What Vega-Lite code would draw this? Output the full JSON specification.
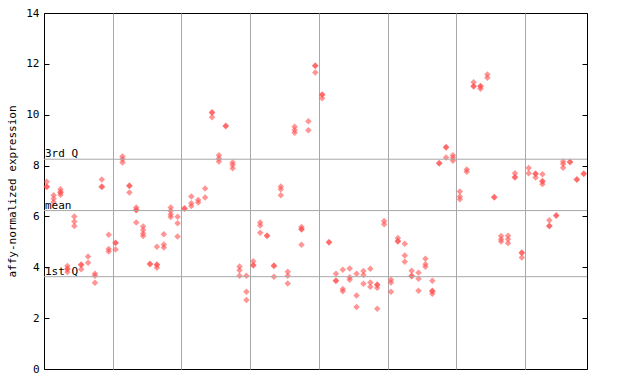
{
  "$schema": "https://vega.github.io/schema/vega-lite/v6.json",
  "width": 543,
  "height": 356,
  "autosize": {"type": "none"},
  "padding": {"left": 44, "top": 13, "right": 53, "bottom": 15},
  "background": "white",
  "config": {
    "view": {"stroke": "black", "strokeWidth": 1},
    "font": "DejaVu Sans Mono",
    "axis": {"labelFont": "DejaVu Sans Mono", "titleFont": "DejaVu Sans Mono", "labelFontSize": 11, "titleFontSize": 11, "labelColor": "black", "titleColor": "black", "titleFontWeight": "normal", "tickColor": "black", "gridColor": "#a8a8a8", "gridOpacity": 1}
  },
  "datasets": {
    "pts": [
      {"s":0,"v":7.36},{"s":0,"v":7.16},{"s":0,"v":7.18},
      {"s":1,"v":6.83},{"s":1,"v":6.70},{"s":1,"v":6.57},
      {"s":2,"v":7.07},{"s":2,"v":6.94},{"s":2,"v":6.96},{"s":2,"v":6.85},
      {"s":3,"v":4.05},{"s":3,"v":3.92},{"s":3,"v":3.94},{"s":3,"v":3.81},
      {"s":4,"v":6.00},{"s":4,"v":5.80},{"s":4,"v":5.62},
      {"s":5,"v":4.09},{"s":5,"v":4.11},{"s":5,"v":3.92},
      {"s":6,"v":4.42},{"s":6,"v":4.18},
      {"s":7,"v":3.75},{"s":7,"v":3.67},{"s":7,"v":3.39},
      {"s":8,"v":7.45},{"s":8,"v":7.16},{"s":8,"v":7.18},
      {"s":9,"v":5.28},{"s":9,"v":4.72},{"s":9,"v":4.62},
      {"s":10,"v":4.95},{"s":10,"v":4.97},{"s":10,"v":4.70},
      {"s":11,"v":8.36},{"s":11,"v":8.25},{"s":11,"v":8.12},
      {"s":12,"v":7.20},{"s":12,"v":7.22},{"s":12,"v":6.94},
      {"s":13,"v":6.35},{"s":13,"v":6.24},{"s":13,"v":6.26},{"s":13,"v":5.76},
      {"s":14,"v":5.60},{"s":14,"v":5.47},{"s":14,"v":5.33},{"s":14,"v":5.23},
      {"s":15,"v":4.12},{"s":15,"v":4.14},
      {"s":16,"v":4.81},{"s":16,"v":4.09},{"s":16,"v":4.11},{"s":16,"v":3.98},
      {"s":17,"v":5.30},{"s":17,"v":4.90},{"s":17,"v":4.78},
      {"s":18,"v":6.35},{"s":18,"v":6.21},{"s":18,"v":6.08},{"s":18,"v":5.98},
      {"s":19,"v":5.99},{"s":19,"v":5.73},{"s":19,"v":5.21},
      {"s":20,"v":6.30},{"s":20,"v":6.32},
      {"s":21,"v":6.78},{"s":21,"v":6.52},{"s":21,"v":6.41},
      {"s":22,"v":6.65},{"s":22,"v":6.55},
      {"s":23,"v":7.10},{"s":23,"v":6.74},
      {"s":24,"v":10.08},{"s":24,"v":10.10},{"s":24,"v":9.90},
      {"s":25,"v":8.41},{"s":25,"v":8.28},{"s":25,"v":8.16},
      {"s":26,"v":9.55},{"s":26,"v":9.57},
      {"s":27,"v":8.12},{"s":27,"v":8.02},{"s":27,"v":7.89},
      {"s":28,"v":4.03},{"s":28,"v":3.88},{"s":28,"v":3.67},
      {"s":29,"v":3.67},{"s":29,"v":3.04},{"s":29,"v":2.71},
      {"s":30,"v":4.24},{"s":30,"v":4.07},{"s":30,"v":4.09},
      {"s":31,"v":5.76},{"s":31,"v":5.64},{"s":31,"v":5.36},
      {"s":32,"v":5.23},{"s":32,"v":5.25},
      {"s":33,"v":4.05},{"s":33,"v":4.07},{"s":33,"v":3.63},
      {"s":34,"v":7.18},{"s":34,"v":7.07},{"s":34,"v":6.83},
      {"s":35,"v":3.82},{"s":35,"v":3.67},{"s":35,"v":3.36},
      {"s":36,"v":9.53},{"s":36,"v":9.40},{"s":36,"v":9.29},
      {"s":37,"v":5.58},{"s":37,"v":5.49},{"s":37,"v":5.51},{"s":37,"v":4.89},
      {"s":38,"v":9.74},{"s":38,"v":9.39},
      {"s":39,"v":11.92},{"s":39,"v":11.94},{"s":39,"v":11.66},
      {"s":40,"v":10.78},{"s":40,"v":10.80},{"s":40,"v":10.65},
      {"s":41,"v":4.97},{"s":41,"v":4.99},
      {"s":42,"v":3.75},{"s":42,"v":3.46},{"s":42,"v":3.48},
      {"s":43,"v":3.90},{"s":43,"v":3.15},{"s":43,"v":3.06},
      {"s":44,"v":3.95},{"s":44,"v":3.61},{"s":44,"v":3.51},
      {"s":45,"v":3.75},{"s":45,"v":2.89},{"s":45,"v":2.44},
      {"s":46,"v":3.85},{"s":46,"v":3.70},{"s":46,"v":3.35},
      {"s":47,"v":3.94},{"s":47,"v":3.40},{"s":47,"v":3.23},
      {"s":48,"v":3.30},{"s":48,"v":3.32},{"s":48,"v":3.19},{"s":48,"v":2.37},
      {"s":49,"v":5.82},{"s":49,"v":5.69},
      {"s":50,"v":3.51},{"s":50,"v":3.40},{"s":50,"v":3.04},
      {"s":51,"v":5.15},{"s":51,"v":5.01},{"s":51,"v":5.03},
      {"s":52,"v":4.93},{"s":52,"v":4.46},{"s":52,"v":4.22},
      {"s":53,"v":3.86},{"s":53,"v":3.65},{"s":53,"v":3.67},
      {"s":54,"v":3.79},{"s":54,"v":3.55},{"s":54,"v":3.08},
      {"s":55,"v":4.34},{"s":55,"v":4.12},{"s":55,"v":4.02},
      {"s":56,"v":3.47},{"s":56,"v":3.06},{"s":56,"v":3.08},{"s":56,"v":2.96},
      {"s":57,"v":8.08},{"s":57,"v":8.10},
      {"s":58,"v":8.73},{"s":58,"v":8.71},{"s":58,"v":8.32},
      {"s":59,"v":8.41},{"s":59,"v":8.31},{"s":59,"v":8.19},
      {"s":60,"v":6.98},{"s":60,"v":6.78},{"s":60,"v":6.68},
      {"s":61,"v":7.85},{"s":61,"v":7.76},
      {"s":62,"v":11.28},{"s":62,"v":11.11},{"s":62,"v":11.13},
      {"s":63,"v":11.11},{"s":63,"v":11.13},{"s":63,"v":11.02},
      {"s":64,"v":11.58},{"s":64,"v":11.45},
      {"s":65,"v":6.74},{"s":65,"v":6.76},
      {"s":66,"v":5.23},{"s":66,"v":5.10},{"s":66,"v":5.01},
      {"s":67,"v":5.24},{"s":67,"v":5.10},{"s":67,"v":4.95},
      {"s":68,"v":7.70},{"s":68,"v":7.53},{"s":68,"v":7.55},
      {"s":69,"v":4.56},{"s":69,"v":4.58},{"s":69,"v":4.38},
      {"s":70,"v":7.90},{"s":70,"v":7.70},
      {"s":71,"v":7.67},{"s":71,"v":7.69},{"s":71,"v":7.53},
      {"s":72,"v":7.66},{"s":72,"v":7.37},{"s":72,"v":7.39},{"s":72,"v":7.27},
      {"s":73,"v":5.85},{"s":73,"v":5.61},{"s":73,"v":5.63},
      {"s":74,"v":6.03},{"s":74,"v":6.05},
      {"s":75,"v":8.16},{"s":75,"v":8.06},{"s":75,"v":7.91},
      {"s":76,"v":8.13},{"s":76,"v":8.15},
      {"s":77,"v":7.44},{"s":77,"v":7.46},
      {"s":78,"v":7.67},{"s":78,"v":7.69}
    ],
    "stats": [
      {"label": "3rd Q", "v": 8.25, "s": -0.4},
      {"label": "mean", "v": 6.23, "s": -0.4},
      {"label": "1st Q", "v": 3.63, "s": -0.4}
    ]
  },
  "layer": [
    {
      "data": {"name": "pts"},
      "mark": {"type": "point", "shape": "diamond", "filled": true, "size": 42, "color": "#ff4f4f", "opacity": 0.6},
      "encoding": {
        "x": {"field": "s", "type": "quantitative", "scale": {"domain": [-0.4, 78.47], "nice": false, "zero": false},
          "axis": {"values": [9.6, 19.45, 29.5, 39.55, 49.55, 59.45, 69.5], "grid": true, "domain": false, "ticks": false, "labels": false, "title": null}},
        "y": {"field": "v", "type": "quantitative", "scale": {"domain": [0, 14], "nice": false},
          "axis": {"orient": "left", "values": [0, 2, 4, 6, 8, 10, 12, 14], "grid": false, "domain": false, "tickSize": -5, "labelPadding": 10, "title": "affy-normalized expression", "titlePadding": 8}}
      }
    },
    {
      "data": {"name": "stats"},
      "mark": {"type": "rule", "color": "#a8a8a8", "strokeWidth": 1},
      "encoding": {
        "y": {"field": "v", "type": "quantitative",
          "axis": {"orient": "right", "values": [0, 2, 4, 6, 8, 10, 12, 14], "labels": false, "tickSize": -5, "domain": false, "grid": false, "title": null}}
      }
    },
    {
      "data": {"name": "stats"},
      "mark": {"type": "text", "align": "left", "baseline": "alphabetic", "dx": 1, "dy": -2, "font": "DejaVu Sans Mono", "fontSize": 11, "color": "black"},
      "encoding": {
        "x": {"field": "s", "type": "quantitative"},
        "y": {"field": "v", "type": "quantitative", "axis": {"orient": "left", "values": [0, 2, 4, 6, 8, 10, 12, 14], "grid": false, "domain": false, "ticks": false, "labels": false, "title": null}},
        "text": {"field": "label"}
      }
    }
  ],
  "resolve": {"axis": {"y": "independent"}}
}
